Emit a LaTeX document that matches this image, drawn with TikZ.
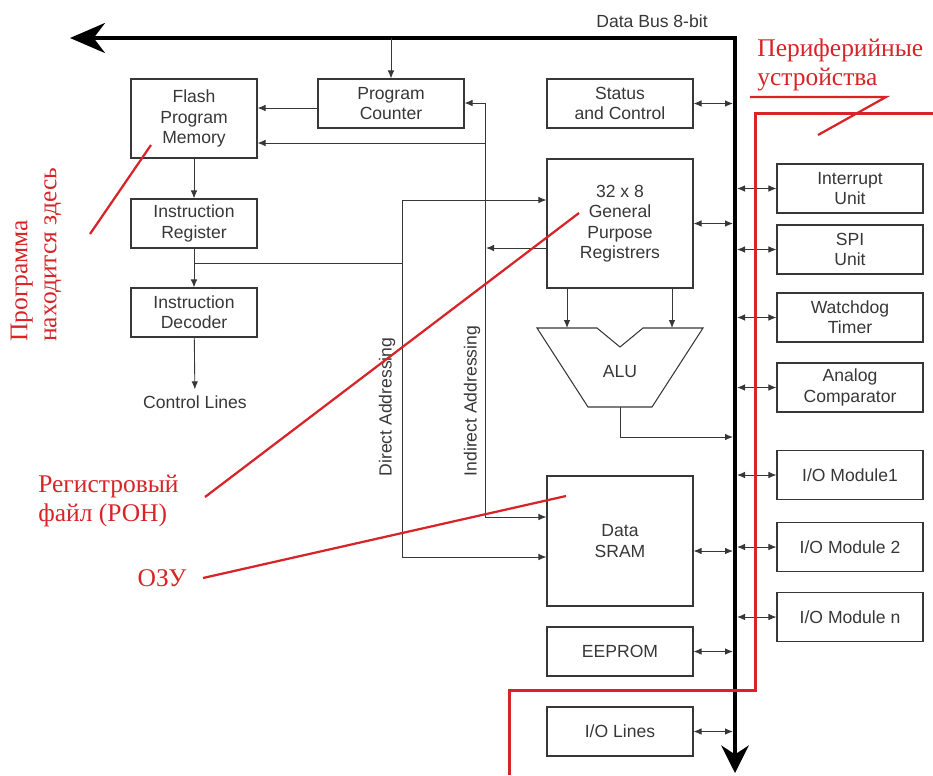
\documentclass[tikz,border=0pt]{standalone}
\usepackage{fontspec}
\setmainfont{Liberation Sans}
\newfontfamily\rufont{Liberation Serif}
\usetikzlibrary{arrows.meta,positioning}
\definecolor{ink}{RGB}{55,55,55}
\definecolor{annot}{RGB}{214,36,40}

\begin{document}
\begin{tikzpicture}[x=0.02cm, y=-0.02cm, font=\fontsize{10}{11.6}\selectfont, color=ink,
 blk/.style={draw=ink, line width=0.6pt, align=center, inner sep=1pt, minimum width=29.2mm, minimum height=9.8mm},
 sig/.style={-{Latex[length=1.6mm,width=1.3mm]}, line width=0.5pt},
 bidir/.style={{Latex[length=1.6mm,width=1.3mm]}-{Latex[length=1.6mm,width=1.3mm]}, line width=0.5pt},
 bus/.style={{Stealth[length=7mm,width=6mm]}-{Stealth[length=5.5mm,width=5.5mm]}, line width=0.8mm, draw=black},
 note/.style={draw=annot, line width=0.45mm},
 rutxt/.style={text=annot, font=\rufont\fontsize{14.5}{16.5}\selectfont, align=left, inner sep=0pt}]

 \useasboundingbox (0,0) rectangle (933,775);

 % --- data bus ---
 \coordinate (busL) at (70,38);
 \coordinate (busT) at (735,38);
 \coordinate (busB) at (735,773);
 \draw[bus] (busL) -- (busT) -- (busB);
 \node (buslbl) at (652,21) {Data Bus 8-bit};

 % --- program side ---
 \node[blk, minimum width=25.2mm, minimum height=15.8mm] (flash) at (194,118.5) {Flash\\Program\\Memory};
 \node[blk] (pc) at (391,103.5) {Program\\Counter};
 \node[blk, minimum width=25.2mm] (ir) at (194,223.5) {Instruction\\Register};
 \node[blk, minimum width=25.2mm] (idec) at (194,312.5) {Instruction\\Decoder};
 \node (ctrl) at (195,402) {Control Lines};

 \draw[sig] (pc.north |- busT) -- (pc);
 \coordinate (pcf) at (300,108);
 \draw[sig] (pc.west |- pcf) -- (flash.east |- pcf);
 \draw[sig] (flash) -- (ir);
 \draw[sig] (ir) -- (idec);
 \draw[sig] (idec) -- (ctrl);

 % --- data side ---
 \node[blk] (status) at (620,103.5) {Status\\and Control};
 \node[blk, minimum height=25.8mm] (gpr) at (620,223.5) {32 x 8\\General\\Purpose\\Registrers};
 \node[blk, minimum height=26mm] (sram) at (620,541) {Data\\SRAM};
 \node[blk] (eeprom) at (620,651.5) {EEPROM};
 \node[blk] (iolines) at (620,731.5) {I/O Lines};

 \node (alu) at (620,372) {ALU};
 \draw[line width=0.6pt] (537,328) -- (597,328) -- (620,347) -- (643,328) -- (703,328) -- (652,407) -- (588,407) -- cycle;
 \coordinate (alua) at (567,328);
 \coordinate (alub) at (672,328);
 \coordinate (aluo) at (620,407);
 \coordinate (alubus) at (735,437);
 \draw[sig] (gpr.south -| alua) -- (alua);
 \draw[sig] (gpr.south -| alub) -- (alub);
 \draw[sig, shorten >=0.4mm] (aluo) |- (alubus);

 % --- addressing ---
 \coordinate (dsplit) at (194,263);
 \coordinate (dtop) at (402,200);
 \coordinate (dbot) at (402,557);
 \draw[line width=0.5pt] (dsplit) -- (dsplit -| dtop);
 \draw[bidir] (gpr.west |- dtop) -- (dtop) -- (dbot) -- (sram.west |- dbot);
 \node[rotate=90] (dlbl) at (387,407) {Direct Addressing};

 \coordinate (itop) at (485,103);
 \coordinate (ibot) at (485,517);
 \coordinate (iflash) at (485,143);
 \coordinate (igpr) at (486,248);
 \draw[bidir] (pc.east |- itop) -- (itop) -- (ibot) -- (sram.west |- ibot);
 \draw[sig] (iflash) -- (flash.east |- iflash);
 \draw[sig] (gpr.west |- igpr) -- (igpr);
 \node[rotate=90] (ilbl) at (472,401) {Indirect Addressing};

 % --- peripherals ---
 \node[blk] (intr) at (850,188.5) {Interrupt\\Unit};
 \node[blk] (spi) at (850,249.5) {SPI\\Unit};
 \node[blk] (wdt) at (850,317.5) {Watchdog\\Timer};
 \node[blk] (acmp) at (850,387.5) {Analog\\Comparator};
 \node[blk] (io1) at (850,475) {I/O Module1};
 \node[blk] (io2) at (850,547) {I/O Module 2};
 \node[blk] (ion) at (850,617) {I/O Module n};

 \foreach \b in {status,gpr,eeprom,iolines}
  \draw[bidir, shorten >=0.4mm] (\b.east) -- (\b.east -| busT);
 \draw[bidir, shorten >=0.4mm] ([yshift=-2mm]sram.east) -- ([yshift=-2mm]sram.east -| busT);
 \foreach \b in {intr,spi,wdt,acmp,io1,io2,ion}
  \draw[bidir, shorten <=0.4mm] (\b.west -| busT) -- (\b.west);

 % --- red notes ---
 \node[rutxt, anchor=west] (perif) at (757,65) {Периферийные\\устройства};
 \coordinate (pu1) at (750,97);
 \coordinate (pu2) at (886,97);
 \coordinate (pu3) at (818,135);
 \draw[note] (pu1) -- (pu2) -- (pu3);
 \draw[note, line width=0.6mm] (933,113) -- (755,113) -- (755,690) -- (509,690) -- (509,775);

 \node[rutxt, rotate=90, anchor=west] (prog) at (36,342) {Программа\\находится здесь};
 \coordinate (progs) at (90,234);
 \coordinate (proge) at (151,145);
 \draw[note] (progs) -- (proge);

 \node[rutxt, anchor=west] (ron) at (38,501) {Регистровый\\файл (РОН)};
 \coordinate (rons) at (205,497);
 \coordinate (rone) at (579,213);
 \draw[note] (rons) -- (rone);

 \node[rutxt] (ozu) at (162,578) {ОЗУ};
 \coordinate (ozus) at (203,578);
 \coordinate (ozue) at (566,496);
 \draw[note] (ozus) -- (ozue);
\end{tikzpicture}
\end{document}
